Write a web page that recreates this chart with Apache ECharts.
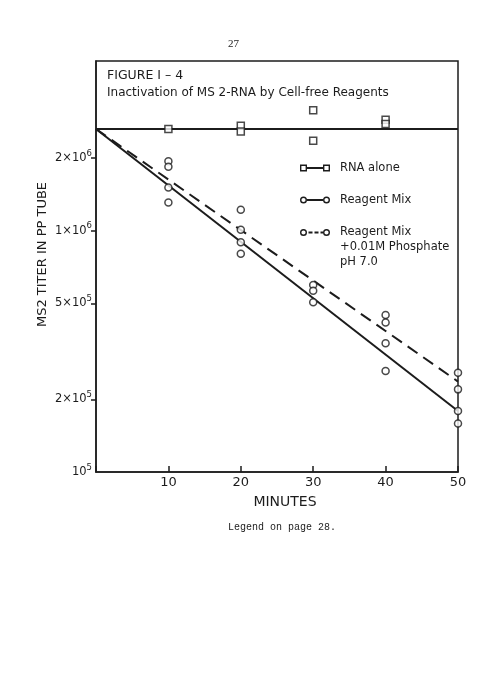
<!DOCTYPE html>
<html>
<head>
<meta charset="utf-8">
<script src="https://cdn.jsdelivr.net/npm/echarts@6/dist/echarts.min.js"></script>
<style>
    html, body { margin: 0; padding: 0; background: #fff; }
    #main { width: 487px; height: 678px; }
</style>
</head>
<body>
<div id="main"></div>
<script>
    // values (minutes, titer)
    var rnaMinutes = [10, 20, 20, 30, 30, 40, 40];
    var rnaTiter = [2.64e6, 2.72e6, 2.58e6, 3.16e6, 2.36e6, 2.88e6, 2.77e6];

    var mixMinutes = [10, 10, 20, 20, 30, 40, 40, 50, 50];
    var mixTiter = [1.51e6, 1.31e6, 8.95e5, 8.03e5, 5.05e5, 3.42e5, 2.62e5, 1.79e5, 1.59e5];

    var phosMinutes = [10, 10, 20, 20, 30, 30, 40, 40, 50, 50];
    var phosTiter = [1.94e6, 1.84e6, 1.22e6, 1.01e6, 5.96e5, 5.64e5, 4.47e5, 4.16e5, 2.58e5, 2.20e5];

    // drawn fit lines
    var fitMinutes = [0, 50];
    var rnaFit = [2.64e6, 2.64e6];
    var mixFit = [2.64e6, 1.79e5];
    var phosFit = [2.64e6, 2.37e5];

    var xTickLabels = ['', '10', '20', '30', '40', '50'];
    var yTickValues = [1e5, 2e5, 5e5, 1e6, 2e6];
    var yTickLabels = ['10{s|5}', '2×10{s|5}', '5×10{s|5}', '1×10{s|6}', '2×10{s|6}'];
    var seriesNames = ['RNA alone', 'Reagent Mix', 'Reagent Mix +0.01M Phosphate'];
    // two leading blank lines keep the first line level with the legend sample
    var legendLabels = ['RNA alone', 'Reagent Mix', '\n\nReagent Mix\n+0.01M Phosphate\npH 7.0'];

    var ink = '#1c1c1c';
    var font = 'DejaVu Sans';
    var yMin = 1e5, yMax = 5.05e6;

    function pairs(xs, ys) {
        return xs.map(function (x, i) { return [x, ys[i]]; });
    }
    var tickLogs = yTickValues.map(function (v) { return Math.log10(v); });

    // legend samples: marker - line - marker
    var squareIcon = 'path://M0,0H7V7H0Z M1.4,1.4V5.6H5.6V1.4Z M7,2.5H23V4.5H7Z M23,0H30V7H23Z M24.4,1.4V5.6H28.6V1.4Z';
    var circleIcon = 'path://M0,3.5A3.5,3.5,0,1,1,7,3.5A3.5,3.5,0,1,1,0,3.5Z M1.4,3.5A2.1,2.1,0,1,0,5.6,3.5A2.1,2.1,0,1,0,1.4,3.5Z M7,2.5H23V4.5H7Z M23,3.5A3.5,3.5,0,1,1,30,3.5A3.5,3.5,0,1,1,23,3.5Z M24.4,3.5A2.1,2.1,0,1,0,28.6,3.5A2.1,2.1,0,1,0,24.4,3.5Z';
    var dashIcon = 'path://M0,3.5A3.5,3.5,0,1,1,7,3.5A3.5,3.5,0,1,1,0,3.5Z M1.4,3.5A2.1,2.1,0,1,0,5.6,3.5A2.1,2.1,0,1,0,1.4,3.5Z M8.5,2.5H12.5V4.5H8.5Z M14.5,2.5H18.5V4.5H14.5Z M20.5,2.5H23V4.5H20.5Z M23,3.5A3.5,3.5,0,1,1,30,3.5A3.5,3.5,0,1,1,23,3.5Z M24.4,3.5A2.1,2.1,0,1,0,28.6,3.5A2.1,2.1,0,1,0,24.4,3.5Z';

    function legendAt(idx, icon, top) {
        return {
            data: [{name: seriesNames[idx], icon: icon}],
            left: 300,
            top: top,
            orient: 'vertical',
            padding: 0,
            itemWidth: 30,
            itemHeight: 7,
            selectedMode: false,
            itemStyle: {color: ink, borderWidth: 0},
            formatter: function () { return legendLabels[idx]; },
            textStyle: {color: ink, fontFamily: font, fontSize: 11.5, lineHeight: 15, padding: [0, 0, 0, 5]}
        };
    }

    function points(name, xs, ys, symbol) {
        return {
            name: name,
            type: 'scatter',
            yAxisIndex: 0,
            data: pairs(xs, ys),
            symbol: symbol,
            symbolSize: 7,
            clip: false,
            z: 5,
            itemStyle: {color: '#fff', borderColor: ink, borderWidth: 1.5}
        };
    }

    function fit(name, ys, dashed) {
        return {
            name: name,
            type: 'line',
            yAxisIndex: 0,
            data: pairs(fitMinutes, ys),
            symbol: 'none',
            clip: false,
            z: 3,
            lineStyle: {color: ink, width: 2, type: dashed ? [12, 7] : 'solid'}
        };
    }

    var myChart = echarts.init(document.getElementById('main'));

    var option = {
        backgroundColor: '#fff',
        animation: false,
        title: [
            {text: '27', left: 228, top: 39, padding: 0,
                textStyle: {fontFamily: 'Liberation Serif', fontSize: 11, fontWeight: 'normal', color: ink}},
            {text: 'FIGURE I – 4', left: 107, top: 69, padding: 0,
                textStyle: {fontFamily: font, fontSize: 12.5, fontWeight: 'normal', color: ink}},
            {text: 'Inactivation of MS 2-RNA by Cell-free Reagents', left: 107, top: 86.5, padding: 0,
                textStyle: {fontFamily: font, fontSize: 12, fontWeight: 'normal', color: ink}},
            {text: 'Legend on page 28.', left: 228, top: 522, padding: 0,
                textStyle: {fontFamily: 'Liberation Mono', fontSize: 10, fontWeight: 'normal', color: ink}}
        ],
        legend: [
            legendAt(0, squareIcon, 160.5),
            legendAt(1, circleIcon, 192.5),
            legendAt(2, dashIcon, 195)
        ],
        grid: {
            left: 96, right: 29, top: 61, bottom: 206,
            show: true, borderColor: ink, borderWidth: 1.5
        },
        xAxis: {
            type: 'value',
            min: 0,
            max: 50,
            interval: 10,
            axisLine: {lineStyle: {color: ink, width: 1.5}},
            axisTick: {inside: true, length: 6, lineStyle: {color: ink, width: 1.5}},
            splitLine: {show: false},
            axisLabel: {
                color: ink, fontFamily: font, fontSize: 13, margin: 4,
                formatter: function (v) { return xTickLabels[Math.round(v / 10)]; }
            },
            name: 'MINUTES',
            nameLocation: 'middle',
            nameGap: 23,
            nameTextStyle: {color: ink, fontFamily: font, fontSize: 14, padding: [0, 0, 0, 16]}
        },
        yAxis: [
            {
                type: 'log',
                logBase: 10,
                min: yMin,
                max: yMax,
                position: 'left',
                axisLine: {show: true, lineStyle: {color: ink, width: 1.5}},
                axisTick: {show: false},
                axisLabel: {show: false},
                splitLine: {show: false}
            },
            {
                // linear mirror of the log axis, used only for the tick marks and labels
                type: 'value',
                min: Math.log10(yMin),
                max: Math.log10(yMax),
                position: 'left',
                axisLine: {show: false},
                splitLine: {show: false},
                axisTick: {show: true, length: 5, customValues: tickLogs.slice(1), lineStyle: {color: ink, width: 1.5}},
                axisLabel: {
                    customValues: tickLogs,
                    margin: 4,
                    color: ink, fontFamily: font, fontSize: 11.5,
                    formatter: function (v) {
                        var best = 0;
                        for (var i = 0; i < tickLogs.length; i++) {
                            if (Math.abs(tickLogs[i] - v) < Math.abs(tickLogs[best] - v)) best = i;
                        }
                        return yTickLabels[best];
                    },
                    rich: {
                        s: {fontSize: 8.5, fontFamily: font, color: ink, padding: [0, 0, 9, 0]}
                    }
                },
                name: 'MS2 TITER IN PP TUBE',
                nameLocation: 'middle',
                nameGap: 47,
                nameMoveOverlap: false,
                nameTextStyle: {color: ink, fontFamily: font, fontSize: 13, padding: [0, 0, 0, 24]}
            }
        ],
        series: [
            fit(seriesNames[0], rnaFit, false),
            fit(seriesNames[1], mixFit, false),
            fit(seriesNames[2], phosFit, true),
            points(seriesNames[0], rnaMinutes, rnaTiter, 'rect'),
            points(seriesNames[1], mixMinutes, mixTiter, 'circle'),
            points(seriesNames[2], phosMinutes, phosTiter, 'circle')
        ]
    };

    myChart.setOption(option);
</script>
</body>
</html>
